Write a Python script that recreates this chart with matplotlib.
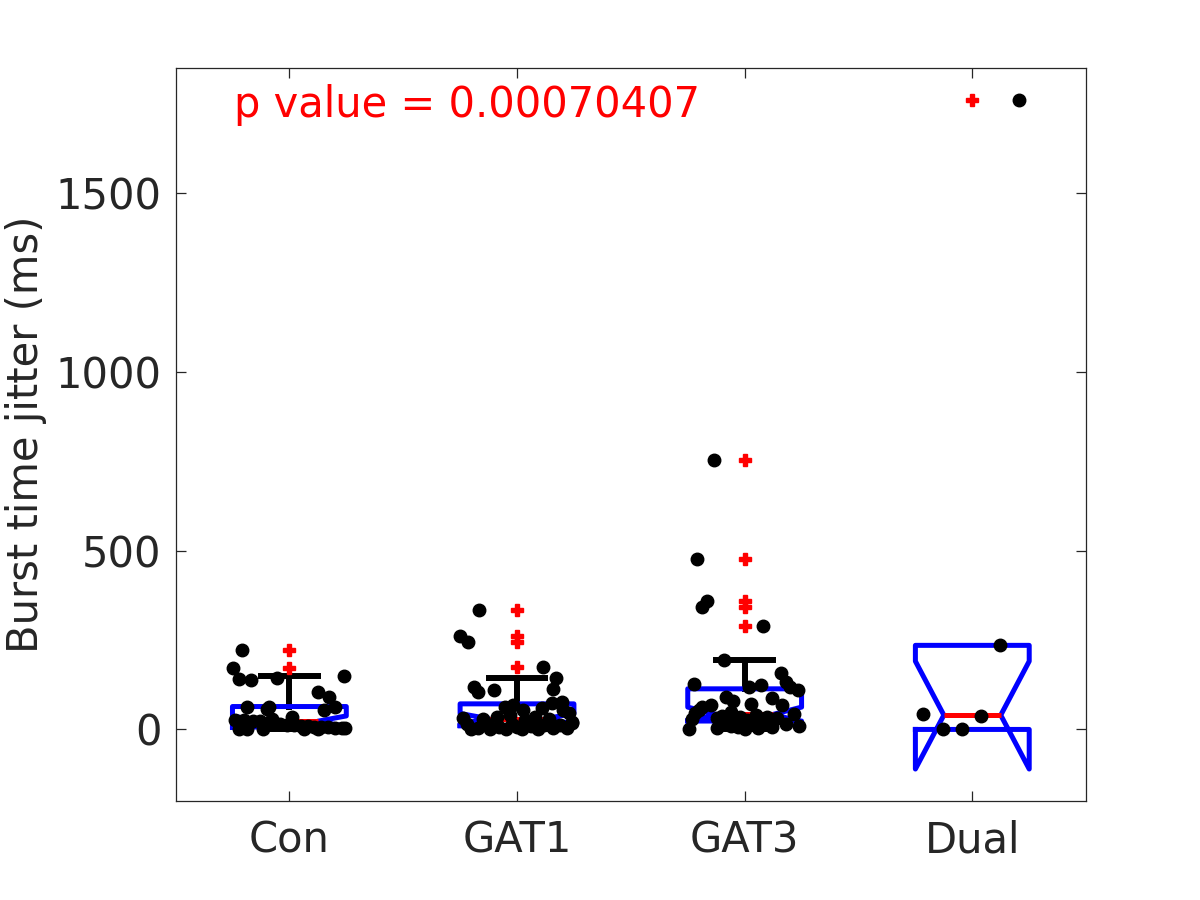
import numpy as np
import matplotlib
matplotlib.use("Agg")
import matplotlib.pyplot as plt

# group names and p value text
groups = ["Con", "GAT1", "GAT3", "Dual"]
p_value = 0.00070407

# burst time jitter (ms) per group
con_vals = [221, 172, 140, 137, 143, 148, 106, 92, 64, 53, 64, 56, 64, 30, 34,
            27, 26, 24, 23, 18, 16, 15, 13, 12, 10, 9, 8, 7, 6, 5, 4, 3, 2, 2, 1, 0, 0]
con_jit = [-0.206, -0.246, -0.22, -0.167, -0.053, 0.242, 0.127, 0.176, 0.20, 0.154, -0.184, -0.10, -0.088, -0.076, 0.012,
           -0.24, -0.2, -0.16, -0.13, -0.1, -0.07, -0.04, -0.01, 0.02, 0.05, 0.08, 0.11, 0.14, 0.17, 0.2, 0.23, 0.245,
           -0.22, -0.185, -0.115, 0.065, 0.125]

gat1_vals = [335, 260, 243, 175, 145, 118, 112, 109, 104,
             76, 73, 67, 64, 59, 53, 53, 45,
             40, 36, 34, 31, 30, 28, 25, 20,
             0, 0, 1, 1, 2, 3, 4, 5, 6, 8, 10, 12, 13, 14, 15, 16, 18, 19]
gat1_jit = [-0.166, -0.25, -0.214, 0.116, 0.171, -0.19, 0.16, -0.10, -0.17,
            0.198, 0.154, -0.018, -0.053, 0.11, 0.026, 0.20, 0.23,
            -0.03, 0.08, -0.088, -0.237, 0.14, -0.15, 0.035, 0.242,
            -0.2, -0.12, -0.05, 0.02, 0.09, 0.16, 0.22, -0.17, -0.08, 0.0, 0.06, 0.12, 0.19, -0.22, -0.13, -0.02, 0.05, 0.24]

gat3_vals = [752, 475, 359, 342, 288,
             195, 158, 132, 126, 125, 120, 118, 109,
             90, 88, 80, 72, 67, 67, 62, 55, 50, 45, 44,
             40, 38, 36, 35, 33, 32, 30, 30, 28, 27, 26, 25,
             22, 18, 16, 14, 11, 10, 8, 6, 5, 3, 2, 0]
gat3_jit = [-0.135, -0.21, -0.164, -0.189, 0.08,
            -0.09, 0.16, 0.18, -0.223, 0.07, 0.02, 0.2, 0.235,
            -0.08, 0.12, -0.05, 0.027, 0.166, -0.15, -0.186, -0.2, -0.06, -0.22, 0.217,
            0.05, -0.1, 0.1, -0.02, 0.14, -0.12, -0.23, 0.07, -0.04, 0.11, 0.01, -0.08,
            0.09, -0.11, 0.18, 0.03, 0.237, -0.06, 0.12, -0.03, 0.06, -0.12, -0.246, 0.0]

dual_vals = [42, 0, 0, 38, 235, 1758]
dual_jit = [-0.215, -0.127, -0.044, 0.04, 0.123, 0.206]

all_vals = [con_vals, gat1_vals, gat3_vals, dual_vals]
all_jit = [con_jit, gat1_jit, gat3_jit, dual_jit]


def box_stats(values, label):
    """MATLAB-like box statistics (hazen quantiles, 1.57*IQR/sqrt(n) notch)."""
    x = np.asarray(values, dtype=float)
    q1, med, q3 = np.percentile(x, [25, 50, 75], method="hazen")
    iqr = q3 - q1
    hi = q3 + 1.5 * iqr
    lo = q1 - 1.5 * iqr
    inside = x[(x >= lo) & (x <= hi)]
    notch = 1.57 * iqr / np.sqrt(len(x))
    return dict(label=label, med=med, q1=q1, q3=q3,
                whislo=inside.min(), whishi=inside.max(),
                fliers=x[(x < lo) | (x > hi)],
                cilo=med - notch, cihi=med + notch, mean=x.mean())


plt.rcParams["font.family"] = "DejaVu Sans"
dark = "#262626"

fig = plt.figure(figsize=(12, 9), dpi=100)
ax = fig.add_axes([0.1463, 0.11, 0.7588, 0.815])

stats = [box_stats(v, g) for v, g in zip(all_vals, groups)]
positions = np.arange(1, len(groups) + 1)

parts = ax.bxp(stats, positions=positions, widths=0.5, shownotches=True,
               boxprops=dict(color="blue", linewidth=3.6, zorder=3),
               medianprops=dict(color="red", linewidth=3.6, zorder=3),
               whiskerprops=dict(color="black", linewidth=4.3, linestyle="-", zorder=2),
               capprops=dict(color="black", linewidth=4.3, zorder=2),
               flierprops=dict(marker="P", markerfacecolor="red", markeredgecolor="red",
                               markersize=9, linestyle="none", zorder=3))

# caps that sit on the box edge are hidden by the box in the original
for i, s in enumerate(stats):
    if s["whislo"] >= s["q1"]:
        parts["caps"][2 * i].set_visible(False)
    if s["whishi"] <= s["q3"]:
        parts["caps"][2 * i + 1].set_visible(False)

# jittered raw points on top
for pos, vals, jit in zip(positions, all_vals, all_jit):
    ax.plot(pos + np.asarray(jit), vals, "o", color="black", markersize=9,
            linestyle="none", zorder=4)

ax.set_xlim(0.5, 4.5)
ax.set_ylim(-200, 1850)
ax.set_xticks(positions)
ax.set_xticklabels(groups)
ax.set_yticks([0, 500, 1000, 1500])
ax.set_ylabel("Burst time jitter (ms)", fontsize=30, color=dark, labelpad=6)

ax.tick_params(direction="in", length=7, width=0.9, colors=dark, labelsize=30,
               top=True, right=True, pad=10)
ax.tick_params(axis="x", pad=13)
for sp in ax.spines.values():
    sp.set_color(dark)
    sp.set_linewidth(0.9)

ax.text(0.064, 0.932, "p value = " + "{:.8f}".format(p_value).rstrip("0"),
        transform=ax.transAxes, color="red", fontsize=30, va="baseline", ha="left")

fig.savefig("out.png", dpi=100)
